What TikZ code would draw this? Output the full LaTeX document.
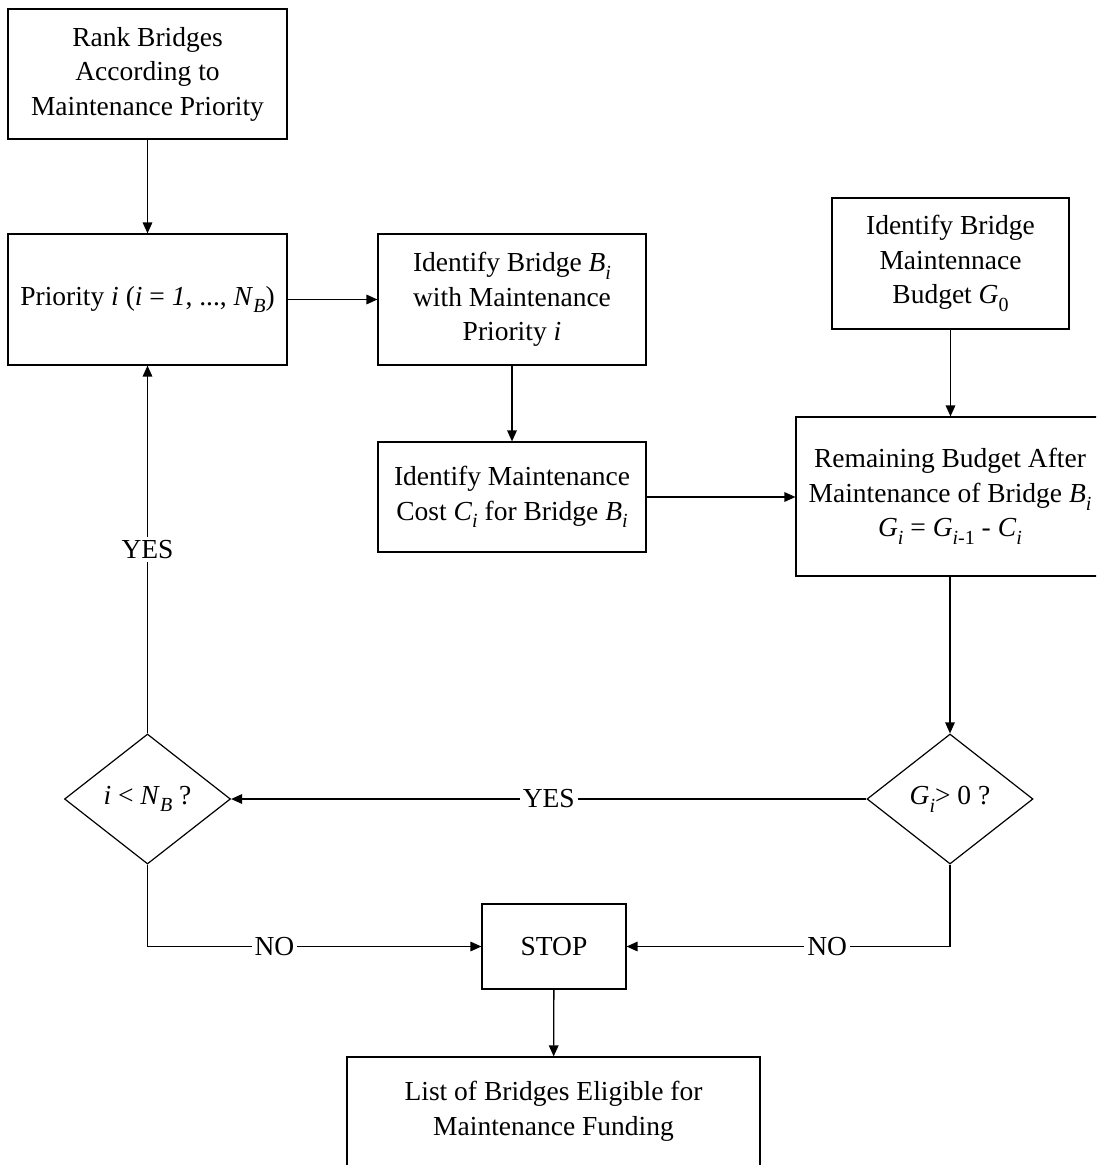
\documentclass[tikz,border=0pt]{standalone}
\usepackage{fontspec}
\setmainfont{Liberation Serif}
\usetikzlibrary{arrows.meta,shapes.geometric}
% lowered index, set a little larger and deeper than \textsubscript
\newcommand{\lowidx}[1]{\raisebox{-0.28em}{\fontsize{10}{10}\selectfont #1}}
\begin{document}
\begin{tikzpicture}[x=0.5pt,y=-0.5pt,
  every node/.style={font=\fontsize{13.75}{17.25}\selectfont},
  box/.style={draw, rectangle, inner sep=0pt, align=center, line width=0.6pt},
  decision/.style={draw, diamond, inner sep=0pt, line width=0.6pt,
                   minimum width=83pt, minimum height=65pt},
  link/.style={line width=0.65pt, -{Triangle[length=5.5pt,width=4.8pt]}},
  tag/.style={fill=white, inner sep=1.5pt}]
\useasboundingbox (0,0) rectangle (1096,1165);
\clip (0,0) rectangle (1096,1165);

% process boxes
\node[box, minimum width=139.5pt, minimum height=65pt] (rank) at (147.5,74)
  {Rank Bridges\\According to\\Maintenance Priority};
\node[box, minimum width=139.5pt, minimum height=65.5pt] (prio) at (147.5,299.5)
  {Priority \textit{i} (\textit{i} = \textit{1}, ..., \textit{N}\lowidx{\textit{B}})};
\node[box, minimum width=134pt, minimum height=65.5pt] (ident) at (512,299.5)
  {Identify Bridge \textit{B}\lowidx{\textit{i}}\\with Maintenance\\Priority \textit{i}};
\node[box, minimum width=134pt, minimum height=55pt] (cost) at (512,497)
  {Identify Maintenance\\Cost \textit{C}\lowidx{\textit{i}} for Bridge \textit{B}\lowidx{\textit{i}}};
\node[box, minimum width=118.5pt, minimum height=65.5pt] (budget) at (950.5,263.5)
  {Identify Bridge\\Maintennace\\Budget \textit{G}\lowidx{0}};
\node[box, minimum width=154pt, minimum height=79.5pt] (remain) at (950,496.5)
  {Remaining Budget After\\Maintenance of Bridge \textit{B}\lowidx{\textit{i}}\\
   \textit{G}\lowidx{\textit{i}} = \textit{G}\lowidx{\textit{i}-1} - \textit{C}\lowidx{\textit{i}}};
\node[box, minimum width=72pt, minimum height=42.5pt] (stop) at (554,946.5) {STOP};
\node[box, minimum width=206.5pt, minimum height=54.5pt] (list) at (553.5,1111.5)
  {List of Bridges Eligible for\\Maintenance Funding};

% decisions
\node[decision] (gtest) at (950,799) {\textit{G}\lowidx{\textit{i}}> 0 ?};
\node[decision] (itest) at (147.5,799) {\textit{i} < \textit{N}\lowidx{\textit{B}} ?};

% connectors
\draw[link] (rank) -- (prio);
\draw[link] (prio) -- (ident);
\draw[link] (ident) -- (cost);
\draw[link] (cost.east) -- (cost.east -| remain.west);
\draw[link] (budget.south) -- (budget.south |- remain.north);
\draw[link] (remain) -- (gtest);
\draw[link] (gtest) -- node[tag] {YES} (itest);
\draw[link] (itest) -- node[tag] {YES} (prio);
\draw[link] (itest.south) |- node[tag, pos=0.69] {NO} (stop.west);
\draw[link] (gtest.south) |- node[tag, pos=0.69] {NO} (stop.east);
\draw[link] (stop) -- (list);
\end{tikzpicture}
\end{document}
